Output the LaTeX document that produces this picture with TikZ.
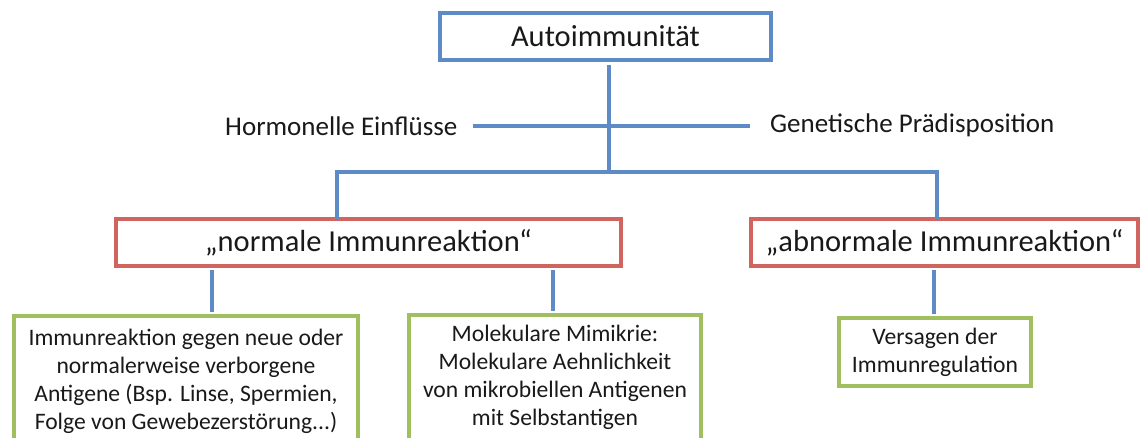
\documentclass[tikz,border=0pt]{standalone}
\usepackage{fontspec}
\setmainfont{Carlito}
\definecolor{bluec}{RGB}{94,139,198}
\definecolor{redc}{RGB}{208,100,95}
\definecolor{greenc}{RGB}{160,192,96}
\definecolor{txt}{RGB}{25,25,25}
\begin{document}
\begin{tikzpicture}[x=1pt,y=-1pt,
  box/.style={draw, line width=3.6pt, rectangle, inner sep=0pt, text=txt, align=center},
  bluebox/.style={box, draw=bluec, font=\fontsize{30.5}{36}\selectfont},
  redbox/.style={box, draw=redc, font=\fontsize{30.5}{36}\selectfont},
  greenbox/.style={box, draw=greenc, font=\fontsize{23.6}{28.2}\selectfont},
  lbl/.style={inner sep=0pt, text=txt, font=\fontsize{27}{32}\selectfont},
  conn/.style={draw=bluec, line width=3.2pt}]
\useasboundingbox (0,0) rectangle (1146,437);
\clip (0,0) rectangle (1146,437);
\fill[white] (0,0) rectangle (1146,437);
% nodes
\node[bluebox, minimum width=331pt, minimum height=47pt] (top) at (605.5,36.5) {Autoimmunität};
\node[lbl, anchor=base west] (horm) at (225,135) {Hormonelle Einflüsse};
\node[lbl, anchor=base west] (gen) at (770,132) {Genetische Prädisposition};
\node[redbox, minimum width=505pt, minimum height=47pt] (norm) at (368.5,242.5) {„normale Immunreaktion“};
\node[redbox, minimum width=387pt, minimum height=47pt] (abn) at (944.5,242.5) {„abnormale Immunreaktion“};
\node[greenbox, minimum width=344pt, minimum height=131pt] (g1) at (186,381.5)
  {Immunreaktion gegen neue oder\\normalerweise verborgene\\Antigene (Bsp. Linse, Spermien,\\Folge von Gewebezerstörung...)};
\node[greenbox, minimum width=292pt, minimum height=125pt] (g2) at (555,377.5)
  {Molekulare Mimikrie:\\Molekulare Aehnlichkeit\\von mikrobiellen Antigenen\\mit Selbstantigen};
\node[greenbox, minimum width=192pt, minimum height=68pt] (g3) at (935,352)
  {Versagen der\\Immunregulation};
% coordinates
\coordinate (j) at (609,172);
\coordinate (bl) at (337,172);
\coordinate (br) at (937,172);
\coordinate (hl) at (473,126);
\coordinate (hr) at (750,126);
\coordinate (c1) at (212,0);
\coordinate (c2) at (553,0);
\coordinate (c3) at (934,0);
% connectors
\draw[conn] ([yshift=-3pt]top.south -| j) -- (j);
\draw[conn] (hl) -- (hr);
\draw[conn] ([yshift=-2pt]norm.north -| bl) -- (bl) -- (br) -- ([yshift=-2pt]abn.north -| br);
\draw[conn] ([yshift=-2pt]norm.south -| c1) -- ([yshift=2pt]g1.north -| c1);
\draw[conn] ([yshift=-2pt]norm.south -| c2) -- ([yshift=2pt]g2.north -| c2);
\draw[conn] ([yshift=-2pt]abn.south -| c3) -- ([yshift=2pt]g3.north -| c3);
\end{tikzpicture}
\end{document}
